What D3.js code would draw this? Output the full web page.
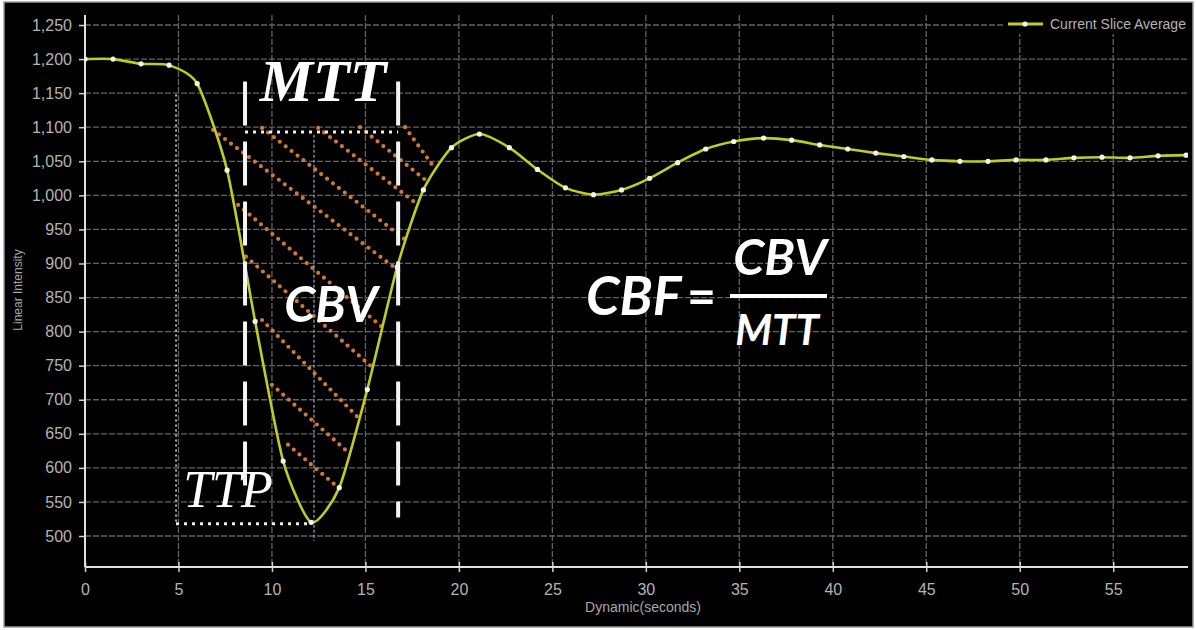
<!DOCTYPE html>
<html>
<head>
<meta charset="utf-8">
<script src="https://cdn.jsdelivr.net/npm/d3@7"></script>
<style>
  body { margin: 0; background: #fff; }
  .tick text { font-family: "Liberation Sans Narrow", "Liberation Sans", Arial, sans-serif; fill: #b4b4b4; }
</style>
</head>
<body>
<svg id="chart" width="1196" height="630"></svg>
<script>
// samples (seconds, linear intensity)
const times = [0, 1.5, 3.0, 4.5, 6.0, 7.6, 9.1, 10.6, 12.1, 13.6, 15.1, 16.7, 18.1, 19.6, 21.1, 22.7,
  24.2, 25.7, 27.2, 28.7, 30.2, 31.7, 33.2, 34.7, 36.3, 37.8, 39.3, 40.8, 42.3, 43.8, 45.3, 46.8,
  48.3, 49.8, 51.4, 52.9, 54.4, 55.9, 57.4, 58.9]
const intensity = [1200, 1200, 1193, 1191, 1164, 1037, 815, 610, 520, 571, 715, 895, 1008, 1070, 1090, 1070,
  1038, 1011, 1001, 1008, 1025, 1048, 1068, 1079, 1084, 1081, 1074, 1068, 1062, 1057, 1052, 1050,
  1050, 1052, 1052, 1055, 1056, 1055, 1058, 1059]

const xTicks = [0, 5, 10, 15, 20, 25, 30, 35, 40, 45, 50, 55]
const yTicks = [500, 550, 600, 650, 700, 750, 800, 850, 900, 950, 1000, 1050, 1100, 1150, 1200, 1250]

// annotation geometry in data units: [t0, v0, t1, v1]
const hatches = [
  [6.85, 1096, 16.85, 888], [9.47, 1099, 17.12, 935], [12.47, 1099, 17.82, 986],
  [14.71, 1100, 18.19, 1023], [17.12, 1100, 18.57, 1045], [8.19, 986, 16.05, 803],
  [8.61, 910, 15.52, 744], [9.47, 817, 14.71, 671], [10.0, 722, 13.91, 627], [10.86, 634, 13.38, 575]
]
const mttStart = 8.56, mttEnd = 16.75, mttLevel = 1093
const ttpStart = 4.87, ttpEnd = 12.09, ttpLevel = 518

const svg = d3.select("#chart")

svg.append("rect").attr("x", 4).attr("y", 2).attr("width", 1189).attr("height", 625)
  .attr("fill", "#000").attr("stroke", "#9a9a9a").attr("stroke-width", 1.5)

const x = d3.scaleLinear().domain([0, 59]).range([85, 1188])
const y = d3.scaleLinear().domain([454.5, 1264.7]).range([567, 15])

// grid
const grid = svg.append("g")
grid.selectAll(".hg").data(yTicks).enter().append("line")
  .attr("x1", x(0)).attr("x2", x(59))
  .attr("y1", d => y(d)).attr("y2", d => y(d))
  .attr("stroke", "#636363").attr("stroke-width", 1.3).attr("stroke-dasharray", "6,2")
grid.selectAll(".vg").data(xTicks.slice(1)).enter().append("line")
  .attr("x1", d => x(d)).attr("x2", d => x(d))
  .attr("y1", y(1264.7)).attr("y2", y(454.5))
  .attr("stroke", "#636363").attr("stroke-width", 1.3).attr("stroke-dasharray", "6,2")

// axes
const yAxis = d3.axisLeft(y).tickValues(yTicks).tickFormat(d3.format(",")).tickSize(6).tickPadding(7)
const gy = svg.append("g").attr("transform", "translate(" + x(0) + ",0)").call(yAxis)
const xAxis = d3.axisBottom(x).tickValues(xTicks).tickSize(5).tickPadding(12)
const gx = svg.append("g").attr("transform", "translate(0," + y(454.5) + ")").call(xAxis)
gy.select(".domain").remove()
gx.select(".domain").remove()
svg.append("line").attr("x1", x(0)).attr("x2", x(0)).attr("y1", y(1264.7)).attr("y2", y(454.5))
  .attr("stroke", "#e0e0e0").attr("stroke-width", 2)
svg.append("line").attr("x1", x(0)).attr("x2", x(59)).attr("y1", y(454.5)).attr("y2", y(454.5))
  .attr("stroke", "#e0e0e0").attr("stroke-width", 2)
svg.selectAll(".tick line").attr("stroke", "#d0d0d0").attr("stroke-width", 1.5)
gy.selectAll(".tick text").attr("font-size", 16)
gx.selectAll(".tick text").attr("font-size", 16)
gx.selectAll(".tick line").attr("y1", -5)

svg.append("text").attr("transform", "translate(22,290) rotate(-90)")
  .attr("text-anchor", "middle").attr("font-family", "Liberation Sans Narrow, Liberation Sans, sans-serif")
  .attr("font-size", 12).attr("fill", "#a8a8a8").text("Linear Intensity")
svg.append("text").attr("x", 643).attr("y", 612)
  .attr("text-anchor", "middle").attr("font-family", "Liberation Sans Narrow, Liberation Sans, sans-serif")
  .attr("font-size", 14).attr("fill", "#a8a8a8").text("Dynamic(seconds)")

// helper lines behind the curve
svg.append("line").attr("x1", x(ttpStart)).attr("x2", x(ttpStart)).attr("y1", y(1148)).attr("y2", y(ttpLevel))
  .attr("stroke", "#e8e8e8").attr("stroke-width", 1.5).attr("stroke-dasharray", "2,3")
svg.append("line").attr("x1", x(12.25)).attr("x2", x(12.25)).attr("y1", y(1089)).attr("y2", y(493))
  .attr("stroke", "#8d9cae").attr("stroke-width", 1.3).attr("stroke-dasharray", "3,2")

// hatching
svg.append("g").selectAll("line").data(hatches).enter().append("line")
  .attr("x1", d => x(d[0])).attr("y1", d => y(d[1]))
  .attr("x2", d => x(d[2])).attr("y2", d => y(d[3]))
  .attr("stroke", "#cc7a36").attr("stroke-width", 4.2)
  .attr("stroke-linecap", "round").attr("stroke-dasharray", "0,7.5")

// curve
const pts = times.map((t, i) => [t, intensity[i]])
const line = d3.line().x(d => x(d[0])).y(d => y(d[1])).curve(d3.curveCardinal.tension(0.35))
svg.append("clipPath").attr("id", "plotclip").append("rect")
  .attr("x", x(0)).attr("y", 0).attr("width", x(59) - x(0)).attr("height", 630)
const cg = svg.append("g").attr("clip-path", "url(#plotclip)")
cg.append("path").datum(pts).attr("d", line)
  .attr("fill", "none").attr("stroke", "#bfcc22").attr("stroke-width", 2.6)
cg.selectAll("circle").data(pts).enter().append("circle")
  .attr("cx", d => x(d[0])).attr("cy", d => y(d[1])).attr("r", 2.6).attr("fill", "#f4f4ee")

// dashed MTT bounds
;[mttStart, mttEnd].forEach((t, i) => {
  svg.append("line").attr("x1", x(t)).attr("x2", x(t))
    .attr("y1", y(1167)).attr("y2", y(i ? 527 : 564))
    .attr("stroke", "#f4f4f4").attr("stroke-width", 4).attr("stroke-dasharray", "44,16")
})
svg.append("line").attr("x1", x(mttStart)).attr("x2", x(mttEnd)).attr("y1", y(mttLevel)).attr("y2", y(mttLevel))
  .attr("stroke", "#f0f0f0").attr("stroke-width", 3).attr("stroke-dasharray", "3,5")
svg.append("line").attr("x1", x(ttpStart)).attr("x2", x(ttpEnd)).attr("y1", y(ttpLevel)).attr("y2", y(ttpLevel))
  .attr("stroke", "#f0f0f0").attr("stroke-width", 3).attr("stroke-dasharray", "3,5")

// labels
const serif = "Liberation Serif, DejaVu Serif, serif"
const sans = "Lato, Open Sans, sans-serif"
svg.append("text").attr("x", 323).attr("y", 101).attr("text-anchor", "middle")
  .attr("font-family", serif).attr("font-style", "italic").attr("font-weight", "bold")
  .attr("font-size", 60).attr("fill", "#fff").text("MTT")
svg.append("text").attr("x", 228).attr("y", 507).attr("text-anchor", "middle")
  .attr("font-family", serif).attr("font-style", "italic")
  .attr("font-size", 52).attr("fill", "#fff").text("TTP")
svg.append("text").attr("x", 331).attr("y", 322).attr("text-anchor", "middle")
  .attr("font-family", sans).attr("font-style", "italic").attr("font-weight", "bold")
  .attr("font-size", 50).attr("fill", "#fff").text("CBV")

svg.append("text").attr("x", 586).attr("y", 315)
  .attr("font-family", sans).attr("font-style", "italic").attr("font-weight", "bold")
  .attr("font-size", 54).attr("fill", "#fff").text("CBF")
svg.append("text").attr("x", 687).attr("y", 314)
  .attr("font-family", sans).attr("font-weight", "bold")
  .attr("font-size", 50).attr("fill", "#fff").text("=")
svg.append("text").attr("x", 780).attr("y", 275).attr("text-anchor", "middle")
  .attr("font-family", sans).attr("font-style", "italic").attr("font-weight", "bold")
  .attr("font-size", 50).attr("fill", "#fff").text("CBV")
svg.append("rect").attr("x", 730).attr("y", 294).attr("width", 97).attr("height", 4).attr("fill", "#fff")
svg.append("text").attr("x", 777).attr("y", 345).attr("text-anchor", "middle")
  .attr("font-family", sans).attr("font-style", "italic").attr("font-weight", "bold")
  .attr("font-size", 42).attr("fill", "#fff").text("MTT")

// legend
const lg = svg.append("g")
lg.append("rect").attr("x", 1004).attr("y", 14).attr("width", 186).attr("height", 20).attr("fill", "#000")
lg.append("line").attr("x1", 1008).attr("x2", 1043).attr("y1", 24).attr("y2", 24)
  .attr("stroke", "#bfcc22").attr("stroke-width", 3)
lg.append("circle").attr("cx", 1025).attr("cy", 24).attr("r", 2.6).attr("fill", "#f4f4ee")
lg.append("text").attr("x", 1050).attr("y", 29)
  .attr("font-family", "Liberation Sans Narrow, Liberation Sans, sans-serif")
  .attr("font-size", 14).attr("fill", "#b4b4b4").text("Current Slice Average")
</script>
</body>
</html>
